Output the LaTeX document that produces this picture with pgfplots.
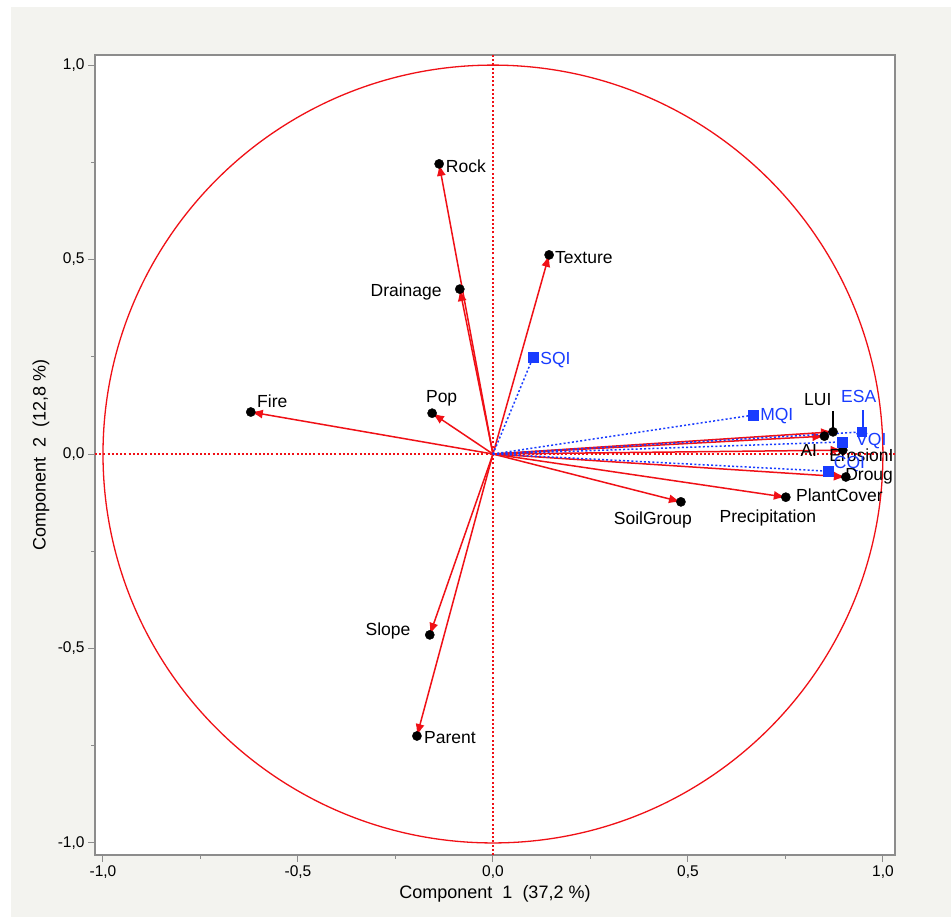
\documentclass[border=0pt]{standalone}
\usepackage{pgfplots}
\pgfplotsset{compat=1.18}
\usepackage{fontspec}
\setmainfont{Liberation Sans}
\usetikzlibrary{arrows.meta}
\definecolor{bgc}{RGB}{243,243,239}
\definecolor{pblue}{RGB}{25,60,255}
\definecolor{pred}{RGB}{240,16,22}
\definecolor{axgray}{RGB}{140,140,140}
\newcommand\lab{\fontsize{17.5bp}{20bp}\selectfont}
\pgfplotstableread{
name x y
Rock -0.138 0.746
Drainage -0.085 0.424
Texture 0.144 0.512
Fire -0.621 0.108
Pop -0.156 0.105
LUI 0.872 0.057
AI 0.850 0.046
ErosionI 0.897 0.010
Droug 0.905 -0.059
PlantCover 0.751 -0.111
SoilGroup 0.482 -0.123
Slope -0.162 -0.465
Parent -0.195 -0.725
}\redvars
\pgfplotstableread{
name x y
SQI 0.103 0.249
MQI 0.667 0.100
ESA 0.946 0.057
VQI 0.895 0.031
CQI 0.859 -0.044
}\bluevars
\begin{document}
\begin{tikzpicture}
\useasboundingbox (0,0) rectangle (951bp,917bp);
\fill[white] (0,0) rectangle (951bp,917bp);
\fill[bgc] (11bp,0) rectangle (951bp,910bp);
\begin{axis}[
 at={(95bp,62bp)}, anchor=south west,
 scale only axis, width=800bp, height=800bp,
 xmin=-1.0205, xmax=1.031, ymin=-1.031, ymax=1.026,
 axis background/.style={fill=white},
 axis line style={axgray, line width=1.2bp},
 tick style={axgray, line width=1bp},
 tick align=outside, tick pos=left,
 major tick length=7bp, minor tick length=4bp,
 xtick={-1,-0.5,0,0.5,1}, ytick={-1,-0.5,0,0.5,1},
 minor xtick={-0.75,-0.25,0.25,0.75}, minor ytick={-0.75,-0.25,0.25,0.75},
 /pgf/number format/fixed, /pgf/number format/fixed zerofill,
 /pgf/number format/precision=1, /pgf/number format/use comma,
 /pgf/number format/assume math mode=true,
 ticklabel style={font=\fontsize{15.5bp}{18bp}\selectfont},
 xlabel={Component\ \ 1\ \ (37,2 \%)},
 ylabel={Component\ \ 2\ \ (12,8 \%)},
 label style={font=\fontsize{18bp}{21bp}\selectfont},
 x label style={at={(axis description cs:0.5,-0.04875)}, anchor=center},
 y label style={at={(axis description cs:-0.0675,0.5)}, anchor=center},
 clip=false,
]
\draw[pred, dash pattern=on 2bp off 2.2bp, line width=1.2bp] (axis cs:0,-1.031) -- (axis cs:0,1.026);
\draw[pred, dash pattern=on 2bp off 2.2bp, line width=1.2bp] (axis cs:-1.0205,0) -- (axis cs:1.031,0);
\draw[pred, line width=1.3bp] (axis cs:0,0) circle [radius=1];
% black dots
\addplot[only marks, mark=*, mark size=4.6bp, black] table[x=x,y=y] {\redvars};
% red arrows
\pgfplotsforeachungrouped \xx/\yy in {-0.138/0.746, -0.085/0.424, 0.144/0.512, -0.621/0.108, -0.156/0.105, 0.872/0.057, 0.850/0.046, 0.897/0.010, 0.905/-0.059, 0.751/-0.111, 0.482/-0.123, -0.162/-0.465, -0.195/-0.725}{
 \edef\tmp{\noexpand\addplot[pred, line width=1.5bp, -{Latex[length=12bp,width=9bp]}] coordinates {(0,0) (\xx,\yy)};}
 \tmp
}
% blue dotted
\pgfplotsforeachungrouped \xx/\yy in {0.103/0.249, 0.667/0.100, 0.946/0.057, 0.895/0.031, 0.859/-0.044}{
 \edef\tmp{\noexpand\addplot[pblue, dash pattern=on 2bp off 2.2bp, line width=1.5bp] coordinates {(0,0) (\xx,\yy)};}
 \tmp
}
\addplot[only marks, mark=square*, mark size=4.8bp, pblue] table[x=x,y=y] {\bluevars};
% leader lines
\draw[black, line width=1.3bp] (axis cs:0.872,0.111) -- (axis cs:0.872,0.064);
\draw[pblue, line width=1.3bp] (axis cs:0.949,0.113) -- (axis cs:0.949,0.064);
% labels
\begin{scope}[every node/.style={inner sep=0pt, font=\lab}]
\node[anchor=west] at (axis cs:-0.121,0.740) {Rock};
\node[anchor=east] at (axis cs:-0.131,0.416) {Drainage};
\node[anchor=west] at (axis cs:0.159,0.504) {Texture};
\node[anchor=west,text=pblue] at (axis cs:0.121,0.242) {SQI};
\node[anchor=west] at (axis cs:-0.605,0.136) {Fire};
\node[anchor=west] at (axis cs:-0.172,0.144) {Pop};
\node[anchor=west,text=pblue] at (axis cs:0.685,0.098) {MQI};
\node[anchor=center] at (axis cs:0.833,0.139) {LUI};
\node[anchor=center,text=pblue] at (axis cs:0.938,0.147) {ESA};
\node[anchor=west,text=pblue] at (axis cs:0.931,0.033) {VQI};
\node[anchor=center] at (axis cs:0.810,0.010) {AI};
\node[anchor=west] at (axis cs:0.862,-0.003) {ErosionI};
\node[anchor=west,text=pblue] at (axis cs:0.874,-0.026) {CQI};
\node[anchor=west] at (axis cs:0.903,-0.057) {Droug};
\node[anchor=west] at (axis cs:0.777,-0.105) {PlantCover};
\node[anchor=center] at (axis cs:0.410,-0.170) {SoilGroup};
\node[anchor=center] at (axis cs:0.705,-0.165) {Precipitation};
\node[anchor=center] at (axis cs:-0.269,-0.455) {Slope};
\node[anchor=west] at (axis cs:-0.177,-0.728) {Parent};
\end{scope}
\end{axis}
\end{tikzpicture}
\end{document}
